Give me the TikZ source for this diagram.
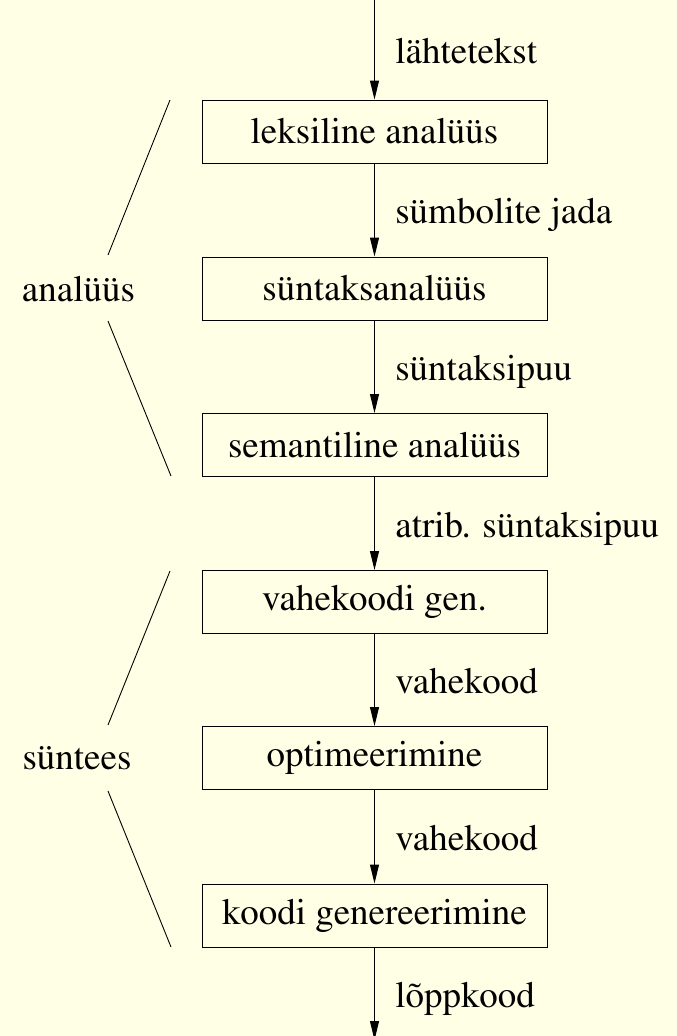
\documentclass[tikz,border=0pt]{standalone}
\usepackage[T1]{fontenc}
\renewcommand{\rmdefault}{ptm}
\usetikzlibrary{arrows.meta}
\definecolor{paper}{RGB}{255,255,230}

\begin{document}
\begin{tikzpicture}
	[x=1pt, y=-1pt,
	every node/.style={font=\fontsize{37}{44}\selectfont},
	phase/.style={draw, line width=1pt, minimum width=345pt, minimum height=63pt, inner sep=0pt},
	flow/.style={-{Triangle[length=19pt,width=9pt]}, line width=1pt},
	data/.style={anchor=base west, xshift=17pt, yshift=-13.5pt},
	brace/.style={line width=0.9pt}]
	\fill[paper] (0,0) rectangle (677,1036);
	\useasboundingbox (0,0) rectangle (677,1036);

	\node[phase] (lex) at (374.5,131.5) {leksiline analüüs};
	\node[phase] (syn) at (374.5,288.5) {süntaksanalüüs};
	\node[phase] (sem) at (374.5,445) {semantiline analüüs};
	\node[phase] (inter) at (374.5,602) {vahekoodi gen.};
	\node[phase] (opt) at (374.5,758) {optimeerimine};
	\node[phase] (gen) at (374.5,915.5) {koodi genereerimine};
	\coordinate (start) at (374.5,0);
	\coordinate (finish) at (374.5,1040);

	\draw[flow] (start) -- node[data] {lähtetekst} (lex);
	\draw[flow] (lex) -- node[data] {sümbolite jada} (syn);
	\draw[flow] (syn) -- node[data] {süntaksipuu} (sem);
	\draw[flow] (sem) -- node[data] {atrib. süntaksipuu} (inter);
	\draw[flow] (inter) -- node[data] {vahekood} (opt);
	\draw[flow] (opt) -- node[data] {vahekood} (gen);
	\draw[flow] (gen) -- node[data] {lõppkood} (finish);

	\node (analysis) at (78.5,289) {analüüs};
	\node (synthesis) at (77,758) {süntees};
	\coordinate (ana-a) at (170,100);
	\coordinate (ana-b) at (108,255);
	\coordinate (ana-c) at (108,321);
	\coordinate (ana-d) at (171,476);
	\coordinate (syn-a) at (170,571);
	\coordinate (syn-b) at (108,725);
	\coordinate (syn-c) at (108,791);
	\coordinate (syn-d) at (171,947);
	\draw[brace] (ana-a) -- (ana-b);
	\draw[brace] (ana-c) -- (ana-d);
	\draw[brace] (syn-a) -- (syn-b);
	\draw[brace] (syn-c) -- (syn-d);
\end{tikzpicture}
\end{document}
